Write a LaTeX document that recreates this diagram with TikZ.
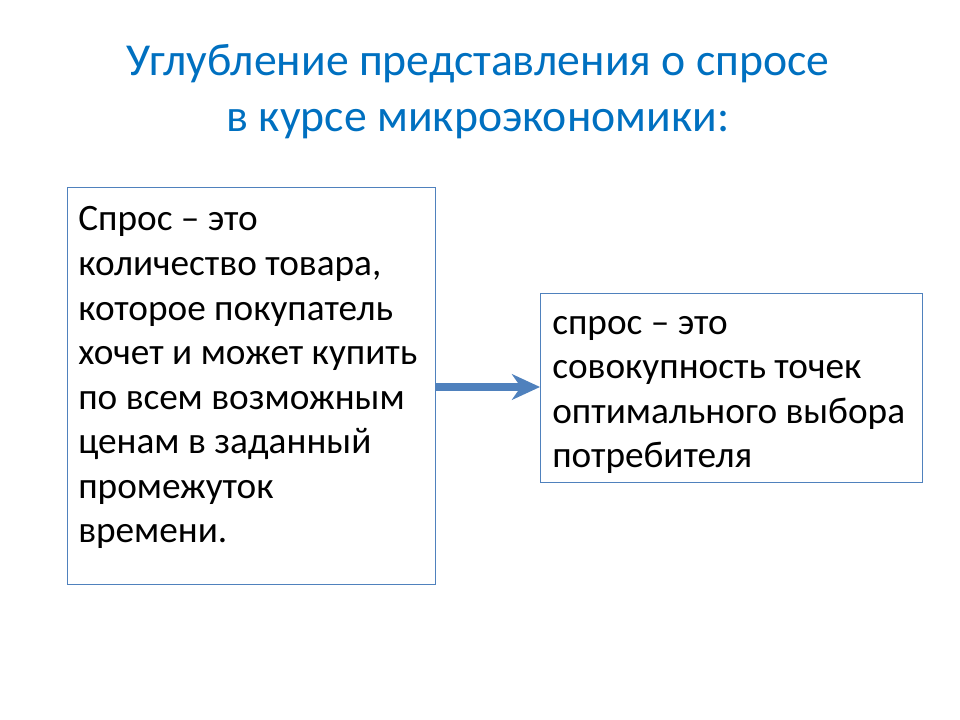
\documentclass[tikz,border=0pt]{standalone}
\usepackage{fontspec}
\setmainfont{Carlito}
\usetikzlibrary{arrows.meta,positioning}

\definecolor{titleblue}{RGB}{0,112,192}
\definecolor{frameblue}{RGB}{79,129,189}

\begin{document}
\begin{tikzpicture}[x=0.025cm,y=-0.025cm,
    panel/.style={draw=frameblue,line width=0.8pt,fill=white,inner sep=0pt},
    bodytext/.style={align=left,inner sep=0pt,font=\fontsize{26.5}{31.7}\selectfont},
    headtext/.style={align=center,inner sep=0pt,text=titleblue,font=\fontsize{32.5}{40}\selectfont},
    shift arrow/.style={draw=frameblue,line width=5.5pt,-{Stealth[length=0.7cm,width=0.64cm,inset=0.22cm]}}]
    \useasboundingbox (0,0) rectangle (960,720);
    %title
    \node[headtext,anchor=base] (title) at (478,132) {Углубление представления о спросе\\в курсе микроэкономики:};
    %left box
    \node[panel,minimum width=368*0.025cm,minimum height=397*0.025cm,anchor=north west] (defbox) at (67,187) {};
    \node[bodytext,anchor=base west] (deftext) at (78,543) {Спрос – это\\количество товара,\\которое покупатель\\хочет и может купить\\по всем возможным\\ценам в заданный\\промежуток\\времени.};
    %right box
    \node[panel,minimum width=382*0.025cm,minimum height=189*0.025cm,anchor=north west] (optbox) at (540,293) {};
    \node[bodytext,anchor=base west] (opttext) at (552,468) {спрос – это\\совокупность точек\\оптимального выбора\\потребителя};
    %arrow
    \draw[shift arrow] (defbox.east |- 0,387) -- (optbox.west |- 0,387);
\end{tikzpicture}
\end{document}
